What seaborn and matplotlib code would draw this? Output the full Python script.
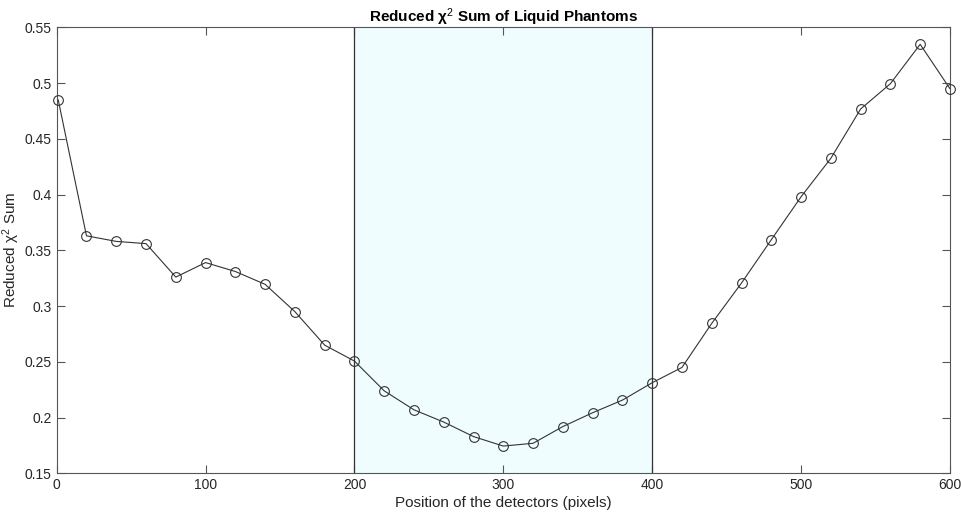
# reduced chi2 sum plot

import numpy as np
import pandas as pd
import matplotlib
matplotlib.use('Agg')
import matplotlib.pyplot as plt
import seaborn as sns

# data
positions = [1, 20, 40, 60, 80, 100, 120, 140, 160, 180, 200, 220, 240, 260, 280,
             300, 320, 340, 360, 380, 400, 420, 440, 460, 480, 500, 520, 540, 560, 580, 600]
chi2_sum = [0.485, 0.363, 0.358, 0.356, 0.326, 0.339, 0.331, 0.3195, 0.295, 0.265,
            0.2507, 0.224, 0.207, 0.196, 0.183, 0.1745, 0.177, 0.192, 0.2044, 0.2157,
            0.2313, 0.245, 0.2845, 0.3207, 0.3595, 0.398, 0.4325, 0.4767, 0.4994, 0.5347, 0.4949]
region = [200, 400]
xticks = [0, 100, 200, 300, 400, 500, 600]
yticks = [0.15, 0.2, 0.25, 0.3, 0.35, 0.4, 0.45, 0.5, 0.55]

df = pd.DataFrame({'pos': positions, 'chi2': chi2_sum})

sns.set_style('white')
plt.rcParams['font.family'] = ['Liberation Sans', 'DejaVu Sans']
plt.rcParams['mathtext.fontset'] = 'custom'
plt.rcParams['mathtext.rm'] = 'Liberation Sans'
plt.rcParams['mathtext.it'] = 'Liberation Sans'

fig = plt.figure(figsize=(9.61, 5.14), dpi=100)
ax = fig.add_axes([0.059, 0.079, 0.9295, 0.868])

# shaded detector region
ax.axvspan(region[0], region[1], color='#f0fdfe', zorder=0)
for xv in region:
    ax.axvline(xv, color='#333333', lw=0.9, zorder=1)

sns.lineplot(data=df, x='pos', y='chi2', ax=ax, color='#333333', lw=0.8,
             marker='o', markersize=7, markerfacecolor='none', markeredgecolor='#333333',
             markeredgewidth=0.8, clip_on=False, zorder=3)

ax.set_xlim(0, 600)
ax.set_ylim(0.15, 0.55)
ax.set_xticks(xticks)
ax.set_xticklabels([str(t) for t in xticks])
ax.set_yticks(yticks)
ax.set_yticklabels(['0.15', '0.2', '0.25', '0.3', '0.35', '0.4', '0.45', '0.5', '0.55'])

ax.tick_params(direction='in', length=6, width=0.8, color='#555555', labelsize=10,
               labelcolor='#262626', top=True, right=True, bottom=True, left=True,
               labeltop=False, labelright=False)
for s in ax.spines.values():
    s.set_color('#555555')
    s.set_linewidth(0.8)

ax.set_xlabel('Position of the detectors (pixels)', fontsize=11, color='#262626', labelpad=3)
ax.set_ylabel('Reduced χ$^{2}$ Sum', fontsize=11, color='#262626')
ax.yaxis.set_label_coords(-0.039, 0.5)
ax.set_title('Reduced χ$^{2}$ Sum of Liquid Phantoms', fontsize=11, fontweight='bold',
             color='black', pad=4)

plt.savefig('out.png', dpi=100)
